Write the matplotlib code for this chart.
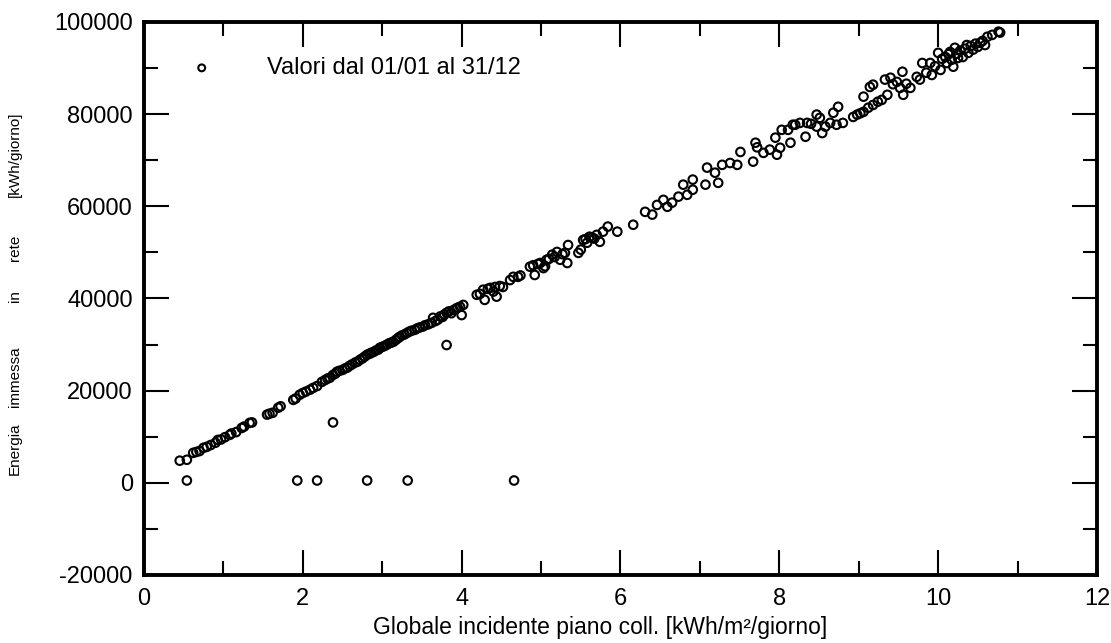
import numpy as np
import matplotlib
matplotlib.use("Agg")
import matplotlib.pyplot as plt
from matplotlib.ticker import MultipleLocator

plt.rcParams['font.family'] = ['Liberation Sans', 'DejaVu Sans']
plt.rcParams['axes.unicode_minus'] = False

# daily values: global irradiation on collector plane vs energy fed to grid
irr = [
    0.45, 0.54, 0.62, 0.66, 0.70, 0.75, 0.79, 0.84, 0.90, 0.93, 0.97, 1.02,
    1.08, 1.10, 1.16, 1.23, 1.26, 1.33, 1.36, 1.55, 1.58, 1.62, 1.69, 1.72,
    1.88, 1.91, 1.96, 2.00, 2.04, 2.09, 2.13, 2.18, 2.24, 2.28, 2.31, 2.34,
    2.38, 2.41, 2.43, 2.46, 2.50, 2.53, 2.56, 2.59, 2.62, 2.66, 2.69, 2.72,
    2.75, 2.78, 2.81, 2.84, 2.86, 2.89, 2.92, 2.95, 2.97, 3.00, 3.03, 3.06,
    3.09, 3.11, 3.14, 3.17, 3.20, 3.22, 3.25, 3.28, 3.31, 3.34, 3.37, 3.41,
    3.44, 3.47, 3.51, 3.54, 3.58, 3.62, 3.64, 3.67, 3.70, 3.73, 3.76, 3.78,
    3.81, 3.84, 3.87, 3.90, 3.93, 3.95, 3.98, 4.00, 4.02, 4.19, 4.23, 4.27,
    4.29, 4.33, 4.36, 4.40, 4.42, 4.44, 4.48, 4.52, 4.61, 4.65, 4.71, 4.74,
    4.86, 4.90, 4.92, 4.96, 4.99, 5.03, 5.05, 5.07, 5.10, 5.14, 5.17, 5.20,
    5.24, 5.27, 5.30, 5.33, 5.34, 5.47, 5.50, 5.53, 5.56, 5.58, 5.61, 5.64,
    5.67, 5.70, 5.74, 5.78, 5.84, 5.96, 6.16, 6.31, 6.40, 6.46, 6.54, 6.59,
    6.65, 6.73, 6.79, 6.84, 6.91, 6.91, 7.07, 7.09, 7.19, 7.23, 7.28, 7.38,
    7.47, 7.51, 7.67, 7.70, 7.72, 7.80, 7.88, 7.95, 7.97, 8.01, 8.03, 8.11,
    8.14, 8.17, 8.20, 8.26, 8.33, 8.35, 8.40, 8.47, 8.47, 8.51, 8.54, 8.58,
    8.64, 8.68, 8.72, 8.74, 8.80, 8.93, 8.98, 9.02, 9.06, 9.06, 9.12, 9.14,
    9.18, 9.18, 9.24, 9.29, 9.33, 9.36, 9.40, 9.43, 9.48, 9.52, 9.55, 9.56,
    9.60, 9.65, 9.73, 9.77, 9.80, 9.85, 9.90, 9.92, 9.96, 10.00, 10.03, 10.05,
    10.09, 10.11, 10.13, 10.15, 10.17, 10.19, 10.21, 10.23, 10.25, 10.28, 10.31,
    10.34, 10.36, 10.38, 10.41, 10.44, 10.47, 10.50, 10.53, 10.56, 10.59, 10.62,
    10.68, 10.76, 10.78,
    # outliers
    0.54, 1.93, 2.18, 2.81, 3.32, 4.66, 2.38, 3.81,
]
energy = [
    4800, 5000, 6500, 6700, 6900, 7600, 7800, 8200, 8700, 9300, 9400, 9900,
    10400, 10700, 11000, 11900, 12200, 13000, 13100, 14800, 15000, 15200, 16300, 16600,
    18000, 18300, 19100, 19500, 19800, 20200, 20600, 21000, 21900, 22300, 22600, 22800,
    23400, 23700, 24100, 24300, 24500, 24800, 25000, 25400, 25700, 26100, 26300, 26700,
    27000, 27400, 27800, 28000, 28200, 28400, 28700, 28900, 29300, 29500, 29700, 30000,
    30300, 30400, 30600, 31000, 31400, 31700, 32000, 32200, 32500, 32800, 33000, 33200,
    33500, 33700, 33900, 34200, 34400, 34700, 35800, 35100, 35400, 36100, 36000, 36500,
    36900, 37200, 36800, 37500, 37800, 38000, 38200, 36400, 38600, 40800, 41000, 41900,
    39700, 42100, 42300, 41500, 42500, 40400, 42700, 42500, 44000, 44700, 44700, 45000,
    46900, 47200, 45100, 47500, 47700, 46600, 47000, 48400, 48600, 49500, 49000, 50100,
    48400, 49600, 49900, 47700, 51600, 49900, 50600, 52700, 52900, 52100, 53400, 53200,
    53000, 53800, 52300, 54500, 55600, 54500, 56000, 58800, 58200, 60300, 61400, 59900,
    60800, 62100, 64700, 62500, 65800, 63600, 64700, 68400, 67300, 65100, 69000, 69400,
    69000, 71800, 69700, 73800, 72800, 71600, 72300, 74900, 71200, 72700, 76600, 76600,
    73800, 77700, 77700, 78100, 75100, 78100, 77900, 79900, 77300, 79200, 75900, 77300,
    78100, 80300, 77700, 81600, 78100, 79400, 79900, 80200, 80500, 83800, 81400, 85900,
    86400, 82000, 82700, 83100, 87500, 84200, 87900, 86500, 87000, 85700, 89200, 84200,
    86600, 85700, 88100, 87500, 91100, 89000, 91100, 88500, 90400, 93300, 89600, 92000,
    92400, 91100, 93000, 93500, 91800, 90300, 94400, 93100, 92200, 93800, 92400,
    94200, 95000, 93300, 94800, 94000, 95300, 94600, 95500, 95900, 95000, 96800,
    97200, 97900, 97700,
    500, 500, 500, 500, 500, 500, 13100, 29900,
]

fig = plt.figure(figsize=(11.11, 6.43), dpi=100)
ax = fig.add_axes([0.1296, 0.1058, 0.8578, 0.86])

ax.scatter(irr, energy, s=38, facecolors='none', edgecolors='black', linewidths=1.5,
           label='Valori dal 01/01 al 31/12')

ax.set_xlim(0, 12)
ax.set_ylim(-20000, 100000)
ax.xaxis.set_major_locator(MultipleLocator(2))
ax.xaxis.set_minor_locator(MultipleLocator(1))
ax.yaxis.set_major_locator(MultipleLocator(20000))
ax.yaxis.set_minor_locator(MultipleLocator(10000))
ax.tick_params(which='both', direction='in', top=True, right=True, width=1.5, labelsize=17, pad=8)
ax.tick_params(axis='x', pad=9.5)
ax.tick_params(which='major', length=18)
ax.tick_params(which='minor', length=10)
for s in ax.spines.values():
    s.set_linewidth(2.8)

ax.set_xlabel('Globale incidente piano coll. [kWh/m²/giorno]', fontsize=16.5, labelpad=4, x=0.4785)

# y label is spread out word by word
words = ['Energia', 'immessa', 'in', 'rete', '[kWh/giorno]']
ypix = [449, 377, 296, 248, 154]
for w, yp in zip(words, ypix):
    fig.text(15 / 1111, 1 - yp / 643, w, rotation=90, fontsize=11, ha='center', va='center')

ax.legend(loc='upper left', bbox_to_anchor=(0.0135, 0.975), frameon=False, fontsize=17,
          handletextpad=1.75, markerscale=0.8)

fig.savefig('out.png', dpi=100)
